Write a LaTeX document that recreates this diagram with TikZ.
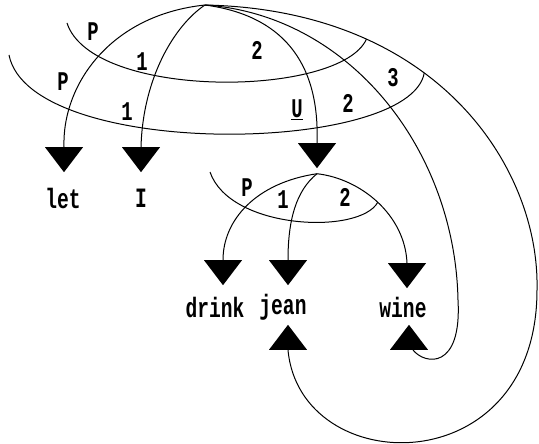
\documentclass[tikz,border=0pt]{standalone}
\usepackage{fontspec}
\usepackage{tikz}
\usetikzlibrary{shapes.geometric}
\newfontfamily\printfont[FakeStretch=0.7]{Liberation Mono}
\tikzset{
  downtri/.style={isosceles triangle, isosceles triangle stretches, shape border rotate=270, fill=black, draw=none, inner sep=0pt, minimum width=38pt, minimum height=25pt},
  uptri/.style={downtri, shape border rotate=90},
  word/.style={font=\printfont\bfseries\fontsize{28}{30}\selectfont, inner sep=1pt},
  lab/.style={font=\printfont\bfseries\fontsize{27}{29}\selectfont, inner sep=1pt},
  link/.style={line width=1pt}
}

\begin{document}
\begin{tikzpicture}[x=1pt, y=-1pt]
  \useasboundingbox (0,0) rectangle (539,444);

  % top of the tree
  \coordinate (root) at (205,5);

  % words
  \node[word] (letW) at (63,198) {let};
  \node[word] (iW) at (141,198) {I};
  \node[word] (drinkW) at (215,307) {drink};
  \node[word] (jeanW) at (283,307) {jean};
  \node[word] (wineW) at (403,307) {wine};

  % triangles
  \node[downtri, anchor=north] (letTri) at (64,147) {};
  \node[downtri, anchor=north] (iTri) at (141,147) {};
  \node[downtri, anchor=north] (uTri) at (317,143) {};
  \node[downtri, anchor=north] (drinkTri) at (223,260) {};
  \node[downtri, anchor=north] (jeanTri) at (288,260) {};
  \node[downtri, anchor=north] (wineTri) at (407,263) {};
  \node[uptri, anchor=south] (jeanUp) at (288,350) {};
  \node[uptri, anchor=south] (wineUp) at (409,350) {};

  % upper links
  \draw[link] (root) .. controls +(-95,10) and +(-2,-62) .. (letTri.north);
  \draw[link] (root) .. controls +(-30,20) and +(2,-70) .. (iTri.north);
  \draw[link] (root) .. controls +(75,10) and +(3,-83) .. (uTri.north);

  % long links round to the bottom
  \coordinate (wineBend) at (458,300);
  \coordinate (jeanBend) at (537,290);
  \draw[link] (root) .. controls +(145,10) and +(-3,-150) .. (wineBend)
    .. controls +(4,70) and +(12,15) .. ([xshift=4pt]wineUp.south);
  \draw[link] (root) .. controls +(235,5) and +(3,-120) .. (jeanBend)
    coordinate[pos=0.27] (innerEnd) coordinate[pos=0.4] (outerEnd)
    .. controls +(0,195) and +(12,130) .. (jeanUp.south);

  % lower subtree
  \coordinate (sub) at ([yshift=-5pt]uTri.south);
  \draw[link] (sub) .. controls +(-61,9) and +(0,-40) .. (drinkTri.north);
  \draw[link] (sub) .. controls +(-21,17) and +(0,-40) .. (jeanTri.north);
  \draw[link] (sub) .. controls +(44,5) and +(-2,-48) .. (wineTri.north)
    coordinate[pos=0.5] (lowerEnd);

  % arcs
  \coordinate (innerStart) at (67,23);
  \coordinate (outerStart) at (9,55);
  \coordinate (lowerStart) at (210,172);
  \draw[link] (innerStart) .. controls (92,100) and (340,98) .. (innerEnd);
  \draw[link] (outerStart) .. controls (30,160) and (410,155) .. (outerEnd);
  \draw[link] (lowerStart) .. controls (230,230) and (360,235) .. (lowerEnd);

  % arc labels
  \node[lab] (innerP) at (93,32) {P};
  \node[lab] (innerOne) at (142,62) {1};
  \node[lab] (innerTwo) at (257,50) {2};
  \node[lab] (outerP) at (63,82) {P};
  \node[lab] (outerOne) at (127,112) {1};
  \node[lab] (outerU) at (297,110) {\underline{U}};
  \node[lab] (outerTwo) at (348,103) {2};
  \node[lab] (outerThree) at (393,78) {3};
  \node[lab] (lowerP) at (247,188) {P};
  \node[lab] (lowerOne) at (283,200) {1};
  \node[lab] (lowerTwo) at (345,197) {2};
\end{tikzpicture}
\end{document}
